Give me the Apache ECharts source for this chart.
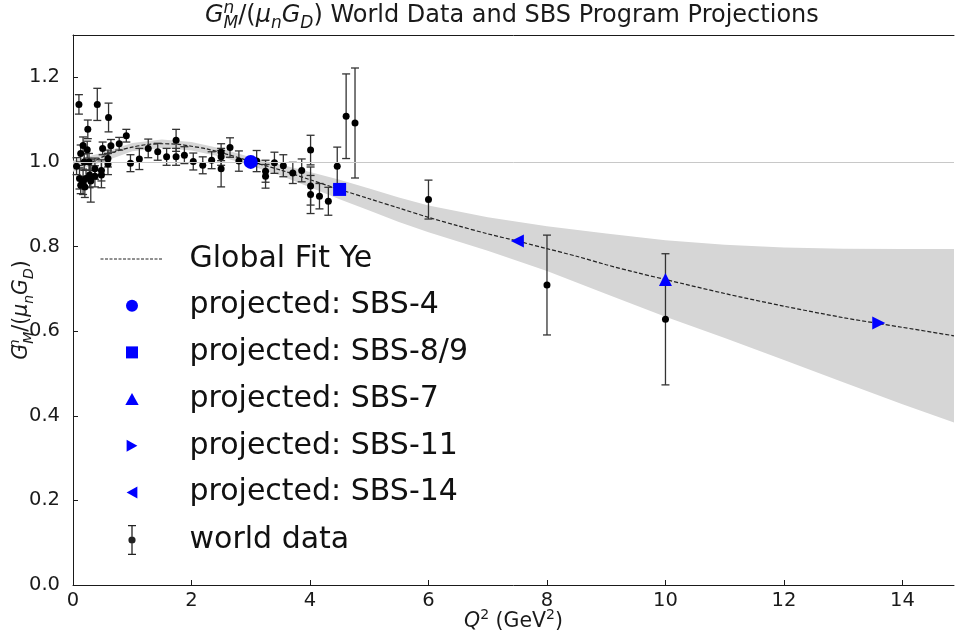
<!DOCTYPE html>
<html>
<head>
<meta charset="utf-8">
<title>GMn / (mu_n GD) world data and SBS projections</title>
<script src="https://cdn.jsdelivr.net/npm/echarts@6/dist/echarts.min.js"></script>
<style>
  html, body { margin: 0; padding: 0; background: #ffffff; }
  #chart { width: 955px; height: 636px; }
</style>
</head>
<body>
<div id="chart"></div>
<script>
// ---- Global fit (Ye): central curve ----
const fitQ2    = [0.0, 0.25, 0.5, 0.75, 1.0, 1.25, 1.5, 1.75, 2.0, 2.25, 2.5, 2.75, 3.0, 3.5, 4.0, 4.5, 5.0, 5.5, 6.0, 6.5, 7.0, 7.5, 8.0, 8.5, 9.0, 9.5, 10.0, 11.0, 12.0, 13.0, 13.6, 14.0, 14.87];
const fitRatio = [0.990, 0.995, 1.012, 1.026, 1.035, 1.041, 1.043, 1.042, 1.037, 1.031, 1.022, 1.012, 1.001, 0.981, 0.958, 0.935, 0.913, 0.891, 0.869, 0.849, 0.830, 0.813, 0.795, 0.777, 0.757, 0.739, 0.722, 0.689, 0.659, 0.632, 0.618, 0.609, 0.589];

// ---- Global fit uncertainty band ----
const bandQ2    = [0.0, 0.5, 1.0, 1.5, 2.0, 2.5, 3.0, 3.5, 4.0, 4.5, 5.0, 5.5, 6.0, 7.0, 8.0, 9.0, 10.0, 11.0, 12.0, 13.0, 14.0, 14.87];
const bandUpper = [1.003, 1.022, 1.045, 1.053, 1.047, 1.032, 1.011, 0.994, 0.976, 0.958, 0.937, 0.916, 0.897, 0.869, 0.848, 0.831, 0.815, 0.804, 0.798, 0.795, 0.794, 0.794];
const bandLower = [0.977, 1.000, 1.025, 1.033, 1.027, 1.012, 0.991, 0.968, 0.940, 0.912, 0.885, 0.858, 0.834, 0.790, 0.742, 0.688, 0.634, 0.584, 0.532, 0.479, 0.427, 0.384];

// ---- World data: Q^2, ratio, uncertainty ----
const worldQ2 = [0.06, 0.10, 0.11, 0.13, 0.13, 0.17, 0.17, 0.19, 0.20, 0.22, 0.24, 0.25, 0.27, 0.28, 0.30, 0.37, 0.37, 0.41, 0.48, 0.48,
                 0.50, 0.59, 0.59, 0.60, 0.64, 0.78, 0.90, 0.97, 1.12, 1.27, 1.43, 1.58, 1.74, 1.74, 1.88, 2.03, 2.19, 2.34, 2.50, 2.50,
                 2.50, 2.65, 2.80, 3.10, 3.25, 3.25, 3.40, 3.55, 3.71, 3.86, 4.01, 4.01, 4.01, 4.16, 4.31, 4.46, 4.61, 4.76, 6.00, 8.00, 10.00];
const worldRatio = [0.990, 1.136, 0.961, 0.945, 1.020, 0.953, 1.039, 1.000, 0.941, 0.961, 1.029, 1.077, 1.000, 0.969, 0.955, 0.984, 0.966, 1.136, 0.980, 0.969,
                    1.032, 1.008, 0.995, 1.105, 1.038, 1.043, 1.062, 0.997, 1.007, 1.032, 1.024, 1.012, 1.051, 1.012, 1.016, 1.001, 0.992, 1.004, 1.023, 1.012,
                    0.984, 1.034, 1.002, 1.002, 0.978, 0.966, 0.998, 0.991, 0.974, 0.980, 1.028, 0.943, 0.923, 0.919, 0.907, 0.990, 1.108, 1.092, 0.911, 0.709, 0.628];
const worldErr = [0.020, 0.023, 0.025, 0.020, 0.020, 0.030, 0.020, 0.020, 0.025, 0.020, 0.020, 0.022, 0.020, 0.030, 0.050, 0.025, 0.025, 0.038, 0.025, 0.030,
                  0.015, 0.020, 0.025, 0.034, 0.015, 0.015, 0.015, 0.020, 0.025, 0.022, 0.020, 0.020, 0.026, 0.020, 0.020, 0.020, 0.020, 0.020, 0.020, 0.020,
                  0.043, 0.023, 0.024, 0.025, 0.026, 0.028, 0.025, 0.026, 0.025, 0.027, 0.035, 0.045, 0.045, 0.030, 0.033, 0.045, 0.100, 0.130, 0.046, 0.118, 0.155];

// ---- SBS projected points: [Q^2, ratio] ----
const sbs4  = [[3.0, 1.000]];
const sbs89 = [[4.5, 0.935]];
const sbs7  = [[10.0, 0.722]];
const sbs11 = [[13.6, 0.619]];
const sbs14 = [[7.5, 0.813]];

// ---- Axis ranges ----
const xRange = [0, 14.87];
const yRange = [0, 1.3];

const FONT = "'DejaVu Sans', 'Liberation Sans', sans-serif";
const INK = '#1a1a1a';
const BLUE = '#0000ff';

// marker shapes shared by plot and legend
const ICON_SQUARE = 'path://M0,0H10V10H0Z';
const ICON_UP     = 'path://M5,0L10,9L0,9Z';
const ICON_RIGHT  = 'path://M0,0L9,5L0,10Z';
const ICON_LEFT   = 'path://M9,0L9,10L0,5Z';
const ICON_ERRBAR = 'path://M0,0H8V1.3H0Z M3.35,0H4.65V30H3.35Z M0,28.7H8V30H0Z M7.6,15A3.6,3.6 0 1,1 0.4,15A3.6,3.6 0 1,1 7.6,15Z';

// rich text styles for the math-style labels (G^n_M, mu_n, Q^2 ...)
function mathRich(size, lh) {
  const small = Math.round(size * 0.7);
  const base = { fontFamily: FONT, fontSize: size, fontWeight: 'normal', color: INK, lineHeight: lh, verticalAlign: 'middle' };
  const sm = { fontFamily: FONT, fontSize: small, fontWeight: 'normal', color: INK, lineHeight: Math.round(lh * 0.6) };
  return {
    r:  Object.assign({}, base),
    i:  Object.assign({}, base, { fontStyle: 'italic' }),
    ss: Object.assign({}, sm, { fontStyle: 'italic', verticalAlign: 'top', width: 0.01 }),
    sp: Object.assign({}, sm, { verticalAlign: 'top' }),
    sb: Object.assign({}, sm, { fontStyle: 'italic', verticalAlign: 'bottom' })
  };
}
const GMN_LABEL = '{i|G}{ss|n}{sb|M}{r|/(}{i|μ}{sb|n}{i|G}{sb|D}{r|)}';

function legendText() {
  return { fontFamily: FONT, fontSize: 30, lineHeight: 30, color: '#111', padding: [0, 0, 0, 21] };
}

const chart = echarts.init(document.getElementById('chart'), null, { renderer: 'canvas' });

const option = {
  animation: false,
  backgroundColor: '#ffffff',
  title: {
    text: GMN_LABEL + '{r| World Data and SBS Program Projections}',
    left: 205,
    top: 0,
    padding: 0,
    textStyle: { fontFamily: FONT, fontSize: 24, fontWeight: 'normal', color: INK, rich: mathRich(24, 32) }
  },
  grid: { left: 73, right: 1, top: 35, bottom: 51, containLabel: false, outerBoundsMode: 'none' },
  legend: [
    {
      orient: 'vertical', left: 100, top: 244, padding: 0,
      itemWidth: 63, itemHeight: 12, itemGap: 16.7,
      selectedMode: false, symbolKeepAspect: true,
      textStyle: legendText(),
      data: [
        { name: 'Global Fit Ye', itemStyle: { opacity: 0 }, lineStyle: { color: '#222', width: 1, type: [3, 1.5] } },
        { name: 'projected: SBS-4', icon: 'circle' },
        { name: 'projected: SBS-8/9', icon: ICON_SQUARE },
        { name: 'projected: SBS-7', icon: ICON_UP },
        { name: 'projected: SBS-11', icon: ICON_RIGHT },
        { name: 'projected: SBS-14', icon: ICON_LEFT }
      ]
    },
    {
      orient: 'vertical', left: 128, top: 525, padding: 0,
      itemWidth: 63, itemHeight: 30,
      selectedMode: false, symbolKeepAspect: true,
      textStyle: legendText(),
      data: [ { name: 'world data', icon: ICON_ERRBAR, itemStyle: { color: '#222', opacity: 1 } } ]
    }
  ],
  xAxis: [
    {
      type: 'value', min: xRange[0], max: xRange[1], interval: 2,
      axisLine: { show: true, onZero: false, lineStyle: { color: INK, width: 1 } },
      axisTick: { show: true, inside: true, length: 5, lineStyle: { color: INK } },
      axisLabel: { fontFamily: FONT, fontSize: 19.5, color: INK, margin: 6, showMaxLabel: false },
      splitLine: { show: false },
      name: '{i|Q}{sp|2}{r| (GeV}{sp|2}{r|)}',
      nameLocation: 'middle', nameGap: 23, nameMoveOverlap: false,
      nameTextStyle: { rich: mathRich(20.5, 28) }
    },
    {
      type: 'value', position: 'top', min: xRange[0], max: xRange[1],
      axisLine: { show: true, onZero: false, lineStyle: { color: INK, width: 1 } },
      axisTick: { show: false }, axisLabel: { show: false }, splitLine: { show: false }
    }
  ],
  yAxis: {
    type: 'value', min: yRange[0], max: yRange[1], interval: 0.2,
    axisLine: { show: true, onZero: false, lineStyle: { color: INK, width: 1 } },
    axisTick: { show: true, inside: true, length: 5, lineStyle: { color: INK } },
    axisLabel: { fontFamily: FONT, fontSize: 19.5, color: INK, margin: 13, showMaxLabel: false,
                 formatter: v => v.toFixed(1) },
    splitLine: { show: false },
    name: GMN_LABEL, nameLocation: 'middle', nameGap: 37, nameRotate: 90, nameMoveOverlap: false,
    nameTextStyle: { rich: mathRich(20.5, 28) }
  },
  series: [
    // uncertainty band of the global fit, one closed polygon
    {
      type: 'custom', name: 'fit band', silent: true, z: 1,
      data: bandQ2.map((q, i) => [q, bandUpper[i], bandLower[i]]),
      encode: { x: 0, y: [1, 2] },
      renderItem: function (params, api) {
        if (params.dataIndex !== 0) return null;
        const upper = bandQ2.map((q, i) => api.coord([q, bandUpper[i]]));
        const lower = bandQ2.map((q, i) => api.coord([q, bandLower[i]])).reverse();
        return {
          type: 'polygon',
          shape: { points: upper.concat(lower) },
          style: { fill: '#d6d6d6', stroke: null }
        };
      }
    },
    {
      type: 'line', name: 'Global Fit Ye',
      data: fitQ2.map((q, i) => [q, fitRatio[i]]),
      symbol: 'none', showSymbol: false, smooth: 0.3,
      lineStyle: { color: '#222', width: 1.2, type: [4, 2] },
      itemStyle: { color: '#222' }, z: 2,
      markLine: {
        silent: true, symbol: 'none', label: { show: false },
        lineStyle: { color: '#c8c8c8', width: 1, type: 'solid' },
        data: [ { yAxis: 1 } ]
      }
    },
    // world data error bars
    {
      type: 'custom', name: 'world data',
      data: worldQ2.map((q, i) => [q, worldRatio[i], worldErr[i]]),
      encode: { x: 0, y: 1 },
      z: 3,
      renderItem: function (params, api) {
        const q = api.value(0), v = api.value(1), e = api.value(2);
        const top = api.coord([q, v + e]);
        const bot = api.coord([q, v - e]);
        const cap = 4;
        const st = { stroke: '#333333', lineWidth: 1.3 };
        return {
          type: 'group',
          children: [
            { type: 'line', shape: { x1: top[0], y1: top[1], x2: bot[0], y2: bot[1] }, style: st },
            { type: 'line', shape: { x1: top[0] - cap, y1: top[1], x2: top[0] + cap, y2: top[1] }, style: st },
            { type: 'line', shape: { x1: bot[0] - cap, y1: bot[1], x2: bot[0] + cap, y2: bot[1] }, style: st }
          ]
        };
      }
    },
    {
      type: 'scatter', name: 'world data',
      data: worldQ2.map((q, i) => [q, worldRatio[i]]),
      symbol: 'circle', symbolSize: 7, itemStyle: { color: '#000', opacity: 1 }, z: 4
    },
    { type: 'scatter', name: 'projected: SBS-4',   data: sbs4,  symbol: 'circle',    symbolSize: 14, itemStyle: { color: BLUE, opacity: 1 }, z: 5 },
    { type: 'scatter', name: 'projected: SBS-8/9', data: sbs89, symbol: ICON_SQUARE, symbolSize: 13, itemStyle: { color: BLUE, opacity: 1 }, z: 5 },
    { type: 'scatter', name: 'projected: SBS-7',   data: sbs7,  symbol: ICON_UP,     symbolSize: 13, itemStyle: { color: BLUE, opacity: 1 }, z: 5 },
    { type: 'scatter', name: 'projected: SBS-11',  data: sbs11, symbol: ICON_RIGHT,  symbolSize: 13, itemStyle: { color: BLUE, opacity: 1 }, z: 5 },
    { type: 'scatter', name: 'projected: SBS-14',  data: sbs14, symbol: ICON_LEFT,   symbolSize: 13, itemStyle: { color: BLUE, opacity: 1 }, z: 5 }
  ]
};

chart.setOption(option);
</script>
</body>
</html>
